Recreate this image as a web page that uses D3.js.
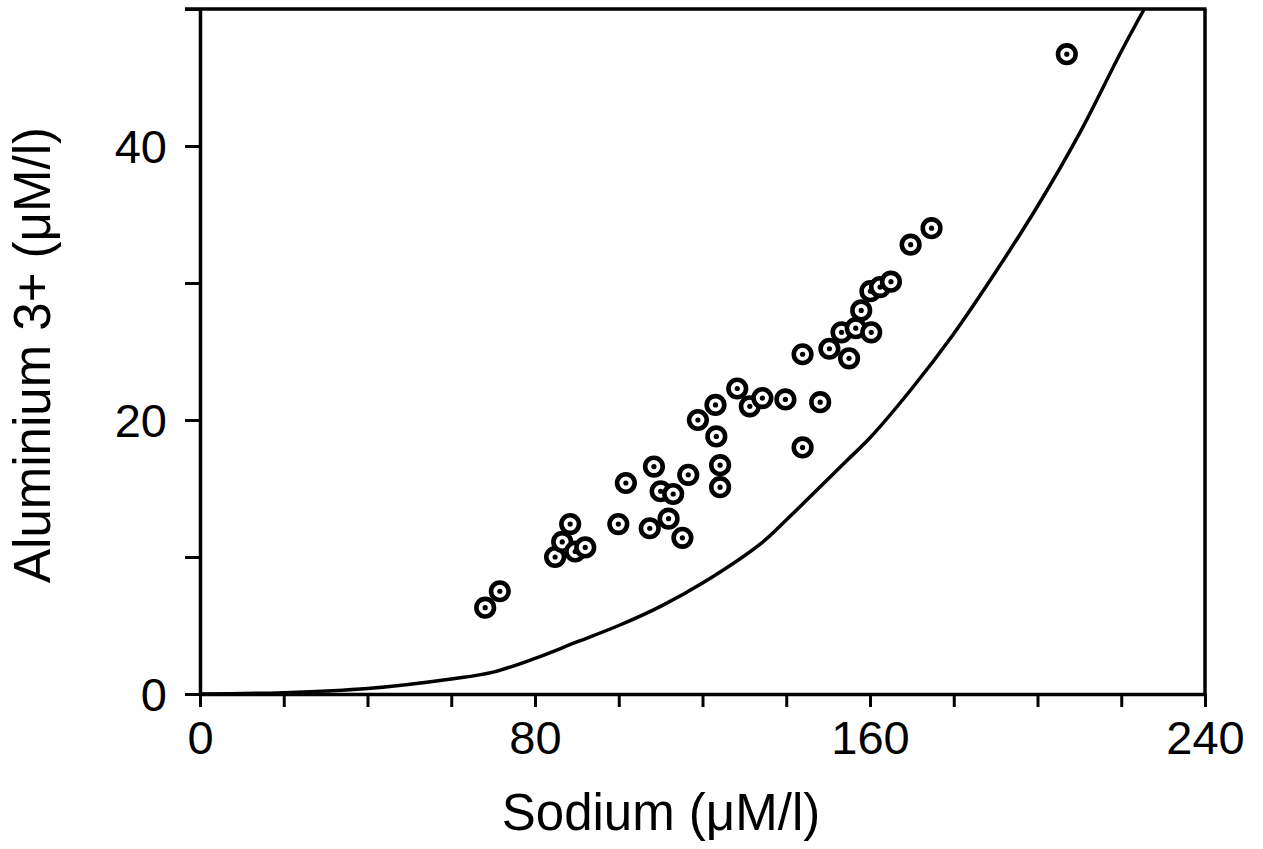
<!DOCTYPE html>
<html>
<head>
<meta charset="utf-8">
<script src="https://d3js.org/d3.v7.min.js"></script>
<style>
    html, body { margin: 0; padding: 0; background: #fff; }
    svg { display: block; }
    text { font-family: "Liberation Sans", Arial, Helvetica, sans-serif; fill: #000; }
</style>
</head>
<body>
<div id="chart"></div>
<script>
// Measured points: sodium vs aluminium (µM/l)
const sodium = [68.1, 71.6, 84.8, 86.5, 88.4, 89.6, 92.0, 99.9, 101.7, 107.4, 108.4,
    110.0, 111.9, 113.0, 115.2, 116.6, 118.9, 123.1, 123.3, 124.2, 124.2, 128.3,
    131.3, 134.3, 139.8, 143.9, 143.9, 148.1, 150.3, 153.2, 155.0, 156.6, 157.9,
    160.3, 160.1, 162.4, 165.0, 169.7, 174.7, 207.0];
const aluminium = [6.3, 7.5, 10.0, 11.1, 12.4, 10.4, 10.7, 12.4, 15.4, 12.1, 16.6,
    14.8, 12.8, 14.6, 11.4, 16.0, 20.0, 21.1, 18.8, 16.7, 15.1, 22.3,
    21.0, 21.6, 21.5, 24.8, 18.0, 21.3, 25.2, 26.4, 24.5, 26.7, 28.0,
    26.4, 29.4, 29.7, 30.1, 32.8, 34.0, 46.7];

// Fitted curve
const curveSodium = [0, 20, 40, 60, 70, 80, 90, 100, 110, 120, 134, 140, 154, 160, 170,
    180, 190, 200, 210, 220, 225.5];
const curveAluminium = [0, 0.1, 0.4, 1.1, 1.6, 2.6, 3.8, 5.0, 6.4, 8.1, 11.0, 12.7, 16.9,
    18.7, 22.3, 26.3, 30.8, 35.6, 40.9, 46.9, 50];

const xTicks = [0, 20, 40, 60, 80, 100, 120, 140, 160, 180, 200, 220, 240];
const xTickLabels = [0, 80, 160, 240];
const yTicks = [0, 10, 20, 30, 40, 50];
const yTickLabels = [0, 20, 40];

const width = 1263;
const height = 849;
const margin = { top: 9, right: 58, bottom: 155, left: 200 };
const innerW = width - margin.left - margin.right;
const innerH = height - margin.top - margin.bottom;

const svg = d3.select('#chart')
    .append('svg')
    .attr('width', width)
    .attr('height', height);

const g = svg.append('g')
    .attr('transform', `translate(${margin.left},${margin.top})`);

const x = d3.scaleLinear().domain([0, 240]).range([0, innerW]);
const y = d3.scaleLinear().domain([0, 50]).range([innerH, 0]);

// Axes
const xAxis = d3.axisBottom(x)
    .tickValues(xTicks)
    .tickSize(13)
    .tickSizeOuter(0)
    .tickFormat(d => xTickLabels.includes(d) ? d : '');

const yAxis = d3.axisLeft(y)
    .tickValues(yTicks)
    .tickSize(15)
    .tickSizeOuter(0)
    .tickFormat(d => yTickLabels.includes(d) ? d : '');

const gx = g.append('g')
    .attr('transform', `translate(0,${innerH})`)
    .call(xAxis);
gx.selectAll('text')
    .style('font-size', '47px')
    .attr('dy', '0')
    .attr('y', 60);

const gy = g.append('g').call(yAxis);
gy.selectAll('text')
    .style('font-size', '47px')
    .attr('x', -33)
    .attr('dy', '0.36em');

[gx, gy].forEach(a => {
    a.select('.domain').attr('stroke', '#000').attr('stroke-width', 3.5);
    a.selectAll('.tick line').attr('stroke', '#000').attr('stroke-width', 3);
});

// Frame top and right
g.append('line')
    .attr('x1', x(0) - 15).attr('x2', x(240) + 1.5)
    .attr('y1', y(50)).attr('y2', y(50))
    .attr('stroke', '#000').attr('stroke-width', 3.5);
g.append('line')
    .attr('x1', x(240)).attr('x2', x(240))
    .attr('y1', y(50)).attr('y2', y(0))
    .attr('stroke', '#000').attr('stroke-width', 3.5);

// Curve
g.append('clipPath').attr('id', 'plot-clip')
    .append('rect').attr('width', innerW).attr('height', innerH);

const curveData = curveSodium.map((s, i) => [s, curveAluminium[i]]);
g.append('path')
    .datum(curveData)
    .attr('clip-path', 'url(#plot-clip)')
    .attr('fill', 'none')
    .attr('stroke', '#000')
    .attr('stroke-width', 3.5)
    .attr('d', d3.line()
        .x(d => x(d[0]))
        .y(d => y(d[1]))
        .curve(d3.curveCatmullRom));

// Points
const points = sodium.map((s, i) => ({ s, a: aluminium[i] }));
const pt = g.append('g')
    .selectAll('g')
    .data(points)
    .enter()
    .append('g')
    .attr('transform', d => `translate(${x(d.s)},${y(d.a)})`);

pt.append('circle')
    .attr('r', 8.8)
    .attr('fill', '#fff')
    .attr('stroke', '#000')
    .attr('stroke-width', 4.6);

pt.append('circle')
    .attr('r', 2.6)
    .attr('fill', '#000');

// Axis titles
svg.append('text')
    .attr('x', 661)
    .attr('y', 830)
    .attr('text-anchor', 'middle')
    .style('font-size', '51px')
    .text('Sodium (μM/l)');

svg.append('text')
    .attr('transform', 'translate(50,355) rotate(-90)')
    .attr('text-anchor', 'middle')
    .style('font-size', '51px')
    .text('Aluminium 3+ (μM/l)');
</script>
</body>
</html>
